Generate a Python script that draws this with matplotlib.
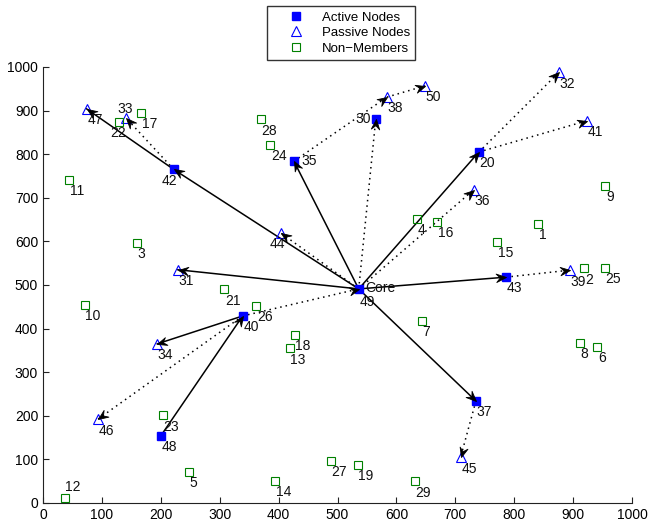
import numpy as np
import matplotlib
matplotlib.use("Agg")
import matplotlib.pyplot as plt
from matplotlib.path import Path
from matplotlib.markers import MarkerStyle

plt.rcParams['font.family'] = ['Liberation Sans', 'DejaVu Sans']

# ---------------- data ----------------
active_ids = [49, 42, 35, 30, 20, 43, 40, 48, 37]
active_x = [536, 222, 426, 565, 740, 786, 339, 200, 735]
active_y = [491, 765, 784, 881, 805, 518, 429, 154, 234]

passive_ids = [47, 33, 44, 31, 34, 46, 45, 39, 36, 41, 32, 50, 38]
passive_x = [74, 141, 404, 229, 194, 93, 709, 894, 731, 924, 876, 649, 584]
passive_y = [904, 883, 619, 535, 365, 192, 105, 534, 718, 877, 988, 957, 931]

nonmember_ids = [1, 2, 3, 4, 5, 6, 7, 8, 9, 10, 11, 12, 13, 14, 15, 16, 17, 18,
                 19, 21, 22, 23, 24, 25, 26, 27, 28, 29]
nonmember_x = [841, 919, 160, 635, 248, 941, 643, 911, 955, 71, 44, 37, 419, 394,
               771, 669, 167, 427, 534, 308, 129, 204, 386, 954, 362, 489, 370, 631]
nonmember_y = [640, 538, 596, 651, 71, 358, 418, 368, 727, 455, 741, 12, 355, 51,
               599, 645, 895, 385, 87, 490, 874, 201, 821, 540, 452, 96, 880, 50]

solid_edges = [(49, 42), (49, 35), (49, 20), (49, 43), (49, 37), (49, 31),
               (42, 47), (40, 34), (48, 40)]
dotted_edges = [(49, 30), (49, 36), (49, 44), (40, 49), (40, 46), (35, 38),
                (38, 50), (20, 32), (20, 41), (43, 39), (37, 45), (42, 33)]

core_id = 49
core_label = "Core"
legend_labels = ["Active Nodes", "Passive Nodes", "Non\u2212Members"]
ticks = list(range(0, 1001, 100))

# ---------------- figure ----------------
fig = plt.figure(figsize=(6.57, 5.29), dpi=100)
ax = fig.add_axes([43 / 657, 1 - 503 / 529, 589 / 657, 436 / 529])
ax.set_xlim(0, 1000)
ax.set_ylim(0, 1000)
ax.set_xticks(ticks)
ax.set_yticks(ticks)
for s in ['top', 'right']:
    ax.spines[s].set_visible(False)
for s in ['left', 'bottom']:
    ax.spines[s].set_color('#222222')
    ax.spines[s].set_linewidth(0.8)
ax.tick_params(direction='in', length=4, width=0.8, colors='#222222',
               labelsize=10, labelcolor='black')

pos = {}
for i, x, y in zip(active_ids, active_x, active_y):
    pos[i] = (x, y)
for i, x, y in zip(passive_ids, passive_x, passive_y):
    pos[i] = (x, y)
for i, x, y in zip(nonmember_ids, nonmember_x, nonmember_y):
    pos[i] = (x, y)

blue = (0, 0, 1)
green = (0, 0.5, 0)

# arrowhead shape (tip at origin, pointing +x)
head_verts = np.array([(0, 0), (-1, 0.42), (-0.62, 0), (-1, -0.42), (0, 0)])


def arrowhead_marker(angle):
    c, s = np.cos(angle), np.sin(angle)
    R = np.array([[c, -s], [s, c]])
    v = head_verts @ R.T
    codes = [Path.MOVETO, Path.LINETO, Path.LINETO, Path.LINETO, Path.CLOSEPOLY]
    return MarkerStyle(Path(v, codes))


def draw_edge(a, b, ls):
    x0, y0 = pos[a]
    x1, y1 = pos[b]
    ax.plot([x0, x1], [y0, y1], color='black', linestyle=ls,
            linewidth=1.1, zorder=2)
    d0 = ax.transData.transform((x0, y0))
    d1 = ax.transData.transform((x1, y1))
    ang = np.arctan2(d1[1] - d0[1], d1[0] - d0[0])
    ax.plot([x1], [y1], marker=arrowhead_marker(ang), markersize=15,
            color='black', markeredgewidth=0.6, linestyle='none', zorder=4)


for a, b in solid_edges:
    draw_edge(a, b, '-')
for a, b in dotted_edges:
    draw_edge(a, b, (0, (1, 2.6)))

h1, = ax.plot(active_x, active_y, 's', color=blue, markerfacecolor=blue,
              markeredgecolor=blue, markersize=5.5, linestyle='none', zorder=3)
h2, = ax.plot(passive_x, passive_y, '^', markerfacecolor='none',
              markeredgecolor=blue, markersize=7.3, markeredgewidth=0.8,
              linestyle='none', zorder=3)
h3, = ax.plot(nonmember_x, nonmember_y, 's', markerfacecolor='none',
              markeredgecolor=green, markersize=5.5, markeredgewidth=0.8,
              linestyle='none', zorder=3)

# node labels
offsets = {42: (-20, -26, 'left', 'center'),
           44: (-20, -26, 'left', 'center'),
           22: (-15, -26, 'left', 'center'),
           33: (-15, 20, 'left', 'center'),
           12: (1, 24, 'left', 'center'),
           30: (-8, 0, 'right', 'center'),
           35: (13, 0, 'left', 'center'),
           49: (1, -29, 'left', 'center')}
for i, (x, y) in pos.items():
    dx, dy, ha, va = offsets.get(i, (1, -26, 'left', 'center'))
    ax.text(x + dx, y + dy, str(i), ha=ha, va=va, fontsize=10, color='#111111',
            zorder=5)
cx, cy = pos[core_id]
ax.text(cx + 11, cy + 2, core_label, ha='left', va='center', fontsize=10,
        color='#111111', zorder=5)

leg = fig.legend([h1, h2, h3], legend_labels, loc='upper left',
                 bbox_to_anchor=(267 / 657, 1 - 6 / 529),
                 bbox_transform=fig.transFigure, fontsize=9.5,
                 frameon=True, fancybox=False, handlelength=3.6,
                 handletextpad=0.15, borderpad=0.4, labelspacing=0.25,
                 borderaxespad=0)
leg.get_frame().set_edgecolor('black')
leg.get_frame().set_linewidth(1.0)

fig.savefig('out.png', dpi=100)
